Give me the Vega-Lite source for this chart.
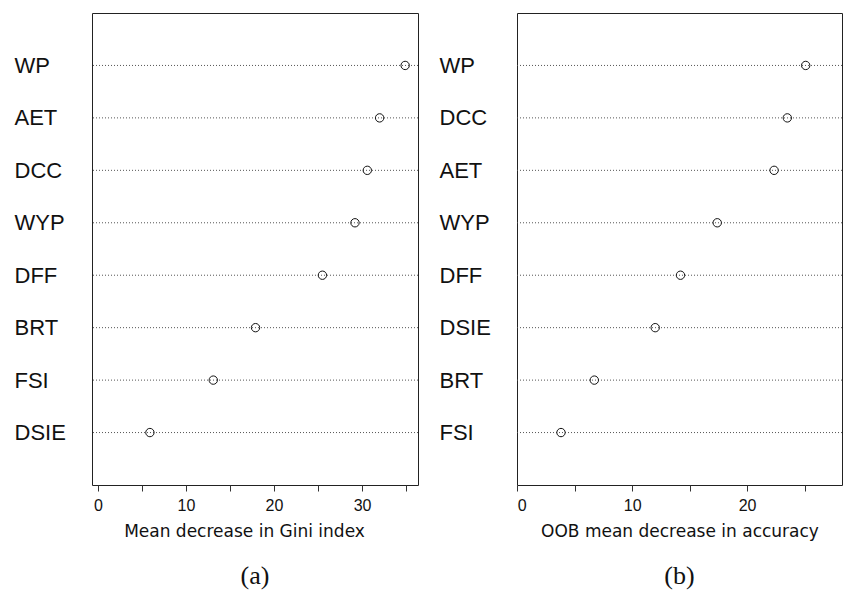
{
  "$schema": "https://vega.github.io/schema/vega-lite/v6.json",
  "background": "white",
  "padding": {"left": 13, "top": 12, "right": 0, "bottom": 0},
  "config": {
    "view": {"stroke": "#222", "strokeWidth": 1},
    "font": "Liberation Sans",
    "axis": {"grid": false, "labelFont": "Liberation Sans", "titleFont": "DejaVu Sans", "labelColor": "#111", "titleColor": "#111"}
  },
  "spacing": 19,
  "datasets": {
    "gini": [
      {"var": "WP", "value": 34.9},
      {"var": "AET", "value": 32.0},
      {"var": "DCC", "value": 30.6},
      {"var": "WYP", "value": 29.2},
      {"var": "DFF", "value": 25.5},
      {"var": "BRT", "value": 17.9},
      {"var": "FSI", "value": 13.1},
      {"var": "DSIE", "value": 5.9}
    ],
    "oob": [
      {"var": "WP", "value": 25.1},
      {"var": "DCC", "value": 23.5},
      {"var": "AET", "value": 22.35},
      {"var": "WYP", "value": 17.4},
      {"var": "DFF", "value": 14.2},
      {"var": "DSIE", "value": 12.0},
      {"var": "BRT", "value": 6.7},
      {"var": "FSI", "value": 3.8}
    ]
  },
  "hconcat": [
    {
      "width": 326,
      "height": 472,
      "data": {"name": "gini"},
      "title": {"text": "(a)", "orient": "bottom", "font": "Liberation Serif", "fontSize": 26, "fontWeight": "normal", "color": "#111", "offset": 24},
      "encoding": {
        "y": {
          "field": "var", "type": "nominal",
          "scale": {"type": "point", "padding": 1, "domain": ["WP", "AET", "DCC", "WYP", "DFF", "BRT", "FSI", "DSIE"]},
          "axis": {"title": null, "domain": false, "ticks": false, "tickSize": 0, "labelAlign": "left", "labelPadding": 78, "labelFontSize": 22, "labelBaseline": "middle"}
        }
      },
      "layer": [
        {"mark": {"type": "rule", "stroke": "#555", "strokeWidth": 1, "strokeDash": [1, 2]}},
        {
          "mark": {"type": "point", "shape": "circle", "filled": false, "stroke": "#111", "strokeWidth": 1, "size": 70, "opacity": 1},
          "encoding": {
            "x": {
              "field": "value", "type": "quantitative",
              "scale": {"domain": [-0.68, 36.36], "nice": false, "zero": false},
              "axis": {"title": "Mean decrease in Gini index", "titleX": 152, "titleAlign": "center", "values": [0, 5, 10, 15, 20, 25, 30, 35], "labelExpr": "datum.value % 10 === 0 ? datum.label : ''", "domain": false, "tickSize": 6, "tickColor": "#333", "labelFontSize": 16, "labelPadding": 6, "titleFontSize": 17, "titleFontWeight": "normal", "titlePadding": 10}
            }
          }
        }
      ]
    },
    {
      "width": 325,
      "height": 472,
      "data": {"name": "oob"},
      "title": {"text": "(b)", "orient": "bottom", "font": "Liberation Serif", "fontSize": 26, "fontWeight": "normal", "color": "#111", "offset": 24},
      "encoding": {
        "y": {
          "field": "var", "type": "nominal",
          "scale": {"type": "point", "padding": 1, "domain": ["WP", "DCC", "AET", "WYP", "DFF", "DSIE", "BRT", "FSI"]},
          "axis": {"title": null, "domain": false, "ticks": false, "tickSize": 0, "labelAlign": "left", "labelPadding": 78, "labelFontSize": 22, "labelBaseline": "middle"}
        }
      },
      "layer": [
        {"mark": {"type": "rule", "stroke": "#555", "strokeWidth": 1, "strokeDash": [1, 2]}},
        {
          "mark": {"type": "point", "shape": "circle", "filled": false, "stroke": "#111", "strokeWidth": 1, "size": 70, "opacity": 1},
          "encoding": {
            "x": {
              "field": "value", "type": "quantitative",
              "scale": {"domain": [-0.03, 28.26], "nice": false, "zero": false},
              "axis": {"title": "OOB mean decrease in accuracy", "values": [0, 5, 10, 15, 20, 25], "labelExpr": "datum.value % 10 === 0 ? datum.label : ''", "domain": false, "tickSize": 6, "tickColor": "#333", "labelFontSize": 16, "labelPadding": 6, "titleFontSize": 17, "titleFontWeight": "normal", "titlePadding": 10}
            }
          }
        }
      ]
    }
  ]
}
